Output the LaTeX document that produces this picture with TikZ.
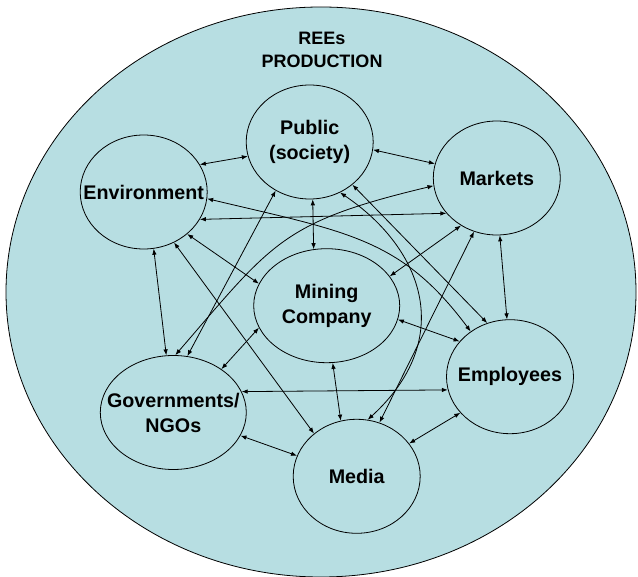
\documentclass[tikz,border=0pt]{standalone}
\usepackage{fontspec}
\setmainfont{Liberation Sans}
\usetikzlibrary{shapes.geometric,arrows.meta}
\definecolor{reeblue}{RGB}{183,222,226}
\newcommand{\tip}{Latex[length=6pt,width=4.5pt]}

\begin{document}
\begin{tikzpicture}[x=1pt,y=-1pt,
    party/.style={ellipse,draw,line width=0.8pt,minimum width=127pt,minimum height=114pt,
      inner sep=0pt,inner xsep=-20pt,align=center,font=\bfseries\fontsize{19.7}{25}\selectfont},
    wide/.style={minimum width=146pt},
    link/.style={{\tip}-{\tip},line width=0.8pt}]
  \useasboundingbox (0,0) rectangle (638,577);
  % the production field
  \draw[fill=reeblue,line width=0.8pt] (321,292) ellipse [x radius=315pt,y radius=285pt];
  \node[align=center,font=\bfseries\fontsize{18}{23.3}\selectfont] (title) at (322,50) {REEs\\PRODUCTION};

  % stakeholders
  \node[party] (env) at (143.7,192) {Environment};
  \node[party] (pub) at (309.7,142) {Public\\(society)};
  \node[party] (mkt) at (496.8,178) {Markets};
  \node[party,wide] (min) at (326.7,305.7) {Mining\\Company};
  \node[party] (emp) at (510,376.7) {Employees};
  \node[party,wide] (gov) at (173.3,412.5) {Governments/\\NGOs};
  \node[party] (med) at (356.7,476.3) {Media};

  \path[link]
    (env.26) edge (pub.193)
    (pub.353) edge (mkt.167)
    (env.334) edge (mkt.215)
    (pub.273.5) edge (min.103)
    (gov.76) edge (pub.235)
    (env.280) edge (gov.97)
    (env.316) edge (min.162)
    (env.301) edge (med.135)
    (min.198.5) edge (gov.42)
    (min.25) edge (mkt.233)
    (min.349) edge (emp.145)
    (min.276) edge (med.106)
    (gov.17.4) edge (emp.192.6)
    (gov.341) edge (med.161)
    (med.32) edge (emp.216)
    (mkt.273) edge (emp.93)
    (mkt.247) edge (med.67.5)
    (pub.315) edge (emp.113);
  % bent links
  \draw[link] (env.354) .. controls (347,232) and (401,238) .. (emp.131);
  \draw[link] (gov.88) .. controls (273,242) and (282,222) .. (mkt.187);
  \draw[link] (pub.301) .. controls (425,250) and (455,340) .. (med.79);
\end{tikzpicture}
\end{document}
